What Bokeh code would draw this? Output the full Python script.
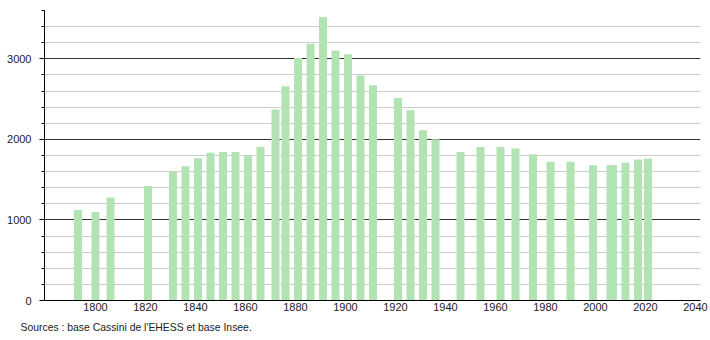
from bokeh.plotting import figure
from bokeh.models import FixedTicker, Grid, Title, Range1d
from bokeh.embed import file_html
from bokeh.resources import INLINE

years = [1793, 1800, 1806, 1821, 1831, 1836, 1841, 1846, 1851, 1856, 1861, 1866,
         1872, 1876, 1881, 1886, 1891, 1896, 1901, 1906, 1911, 1921, 1926, 1931,
         1936, 1946, 1954, 1962, 1968, 1975, 1982, 1990, 1999, 2006, 2007, 2012,
         2017, 2021]
population = [1123, 1100, 1280, 1420, 1595, 1668, 1765, 1833, 1845, 1845, 1804, 1907,
              2370, 2659, 3010, 3188, 3518, 3105, 3056, 2792, 2672, 2514, 2362, 2114,
              2003, 1845, 1907, 1907, 1887, 1817, 1721, 1721, 1680, 1680, 1680, 1709,
              1751, 1763]
x_ticks = [1800, 1820, 1840, 1860, 1880, 1900, 1920, 1940, 1960, 1980, 2000, 2020, 2040]
y_major = [0, 1000, 2000, 3000]
y_minor = [200, 400, 600, 800, 1200, 1400, 1600, 1800, 2200, 2400, 2600, 2800,
           3200, 3400, 3600]
source_text = "Sources : base Cassini de l'EHESS et base Insee."

FONT = "Liberation Sans"

p = figure(width=710, height=340, output_backend="svg", toolbar_location=None,
           x_range=Range1d(1779.6, 2042.0), y_range=Range1d(0, 3600),
           min_border_left=44, min_border_right=10, min_border_top=10,
           min_border_bottom=40, outline_line_color=None,
           background_fill_color="white", border_fill_color="white")

p.xgrid.visible = False
p.ygrid.visible = False

minor_grid = Grid(dimension=1, ticker=FixedTicker(ticks=y_minor),
                  grid_line_color="#cccccc", grid_line_width=1)
major_grid = Grid(dimension=1, ticker=FixedTicker(ticks=y_major),
                  grid_line_color="#333333", grid_line_width=1)
p.add_layout(minor_grid)
p.add_layout(major_grid)

p.vbar(x=years, top=population, width=3.2, bottom=0,
       fill_color="#b2e3b2", line_color=None)

# x axis
p.xaxis.ticker = FixedTicker(ticks=x_ticks)
p.xaxis.major_tick_out = 0
p.xaxis.major_tick_in = 0
p.xaxis.minor_tick_out = 0
p.xaxis.minor_tick_in = 0
p.xaxis.axis_line_color = "black"
p.xaxis.axis_line_width = 1
p.xaxis.major_label_text_font = FONT
p.xaxis.major_label_text_font_size = "11px"
p.xaxis.major_label_text_color = "#222222"
p.xaxis.major_label_standoff = 2

# y axis
p.yaxis.ticker = FixedTicker(ticks=y_major, minor_ticks=y_minor + [0])
p.yaxis.major_tick_out = 5
p.yaxis.major_tick_in = 0
p.yaxis.minor_tick_out = 3
p.yaxis.minor_tick_in = 0
p.yaxis.axis_line_color = "black"
p.yaxis.major_tick_line_color = "black"
p.yaxis.minor_tick_line_color = "black"
p.yaxis.major_label_text_font = FONT
p.yaxis.major_label_text_font_size = "11px"
p.yaxis.major_label_text_color = "#222222"
p.yaxis.major_label_standoff = 8

src = Title(text=source_text, align="left", offset=-24, standoff=12,
            text_font=FONT, text_font_size="10.4px", text_font_style="normal",
            text_color="#222222")
p.add_layout(src, "below")

open("out.html", "w").write(file_html(p, INLINE))
